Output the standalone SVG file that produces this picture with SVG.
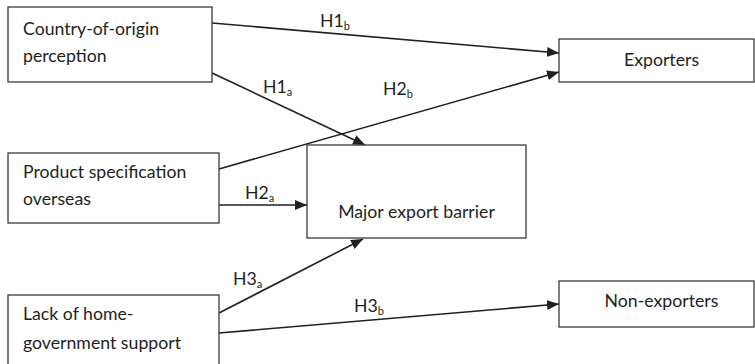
<svg xmlns="http://www.w3.org/2000/svg" width="755" height="364" viewBox="0 0 755 364">
<defs>
<style>
.box{fill:#fff;stroke:#3a3a3a;stroke-width:1.3}
.t{font-family:Lato,"Open Sans","Liberation Sans",sans-serif;font-size:17.7px;fill:#231f20}
.c{text-anchor:middle}
.e{stroke:#231f20;stroke-width:1.6;fill:none;marker-end:url(#ah)}
.s{font-size:11px}
</style>
<marker id="ah" viewBox="0 0 12 10" refX="12" refY="5" markerWidth="12" markerHeight="10" markerUnits="userSpaceOnUse" orient="auto">
<path d="M0,0 L12,5 L0,10 z" fill="#231f20"/>
</marker>
</defs>
<rect width="755" height="364" fill="#fff"/>
<g id="connectors">
<line class="e" x1="212" y1="23" x2="559" y2="53"/>
<line class="e" x1="212" y1="73" x2="365" y2="145"/>
<line class="e" x1="219" y1="169" x2="559" y2="72"/>
<line class="e" x1="219" y1="205" x2="307" y2="205"/>
<line class="e" x1="219" y1="313" x2="363" y2="239"/>
<line class="e" x1="219" y1="333" x2="559" y2="304"/>
<text class="t" x="320" y="27">H1<tspan class="s" dy="3">b</tspan></text>
<text class="t" x="263" y="93">H1<tspan class="s" dy="3">a</tspan></text>
<text class="t" x="383" y="95">H2<tspan class="s" dy="3">b</tspan></text>
<text class="t" x="245" y="199">H2<tspan class="s" dy="3">a</tspan></text>
<text class="t" x="233" y="285">H3<tspan class="s" dy="3">a</tspan></text>
<text class="t" x="354" y="312">H3<tspan class="s" dy="3">b</tspan></text>
</g>
<g id="country">
<rect class="box" x="8" y="7" width="204" height="75"/>
<text class="t" x="23" y="35">Country-of-origin</text>
<text class="t" x="23" y="62">perception</text>
</g>
<g id="product">
<rect class="box" x="8" y="153" width="211" height="70"/>
<text class="t" x="23" y="178">Product specification</text>
<text class="t" x="23" y="205">overseas</text>
</g>
<g id="lack">
<rect class="box" x="8" y="295" width="211" height="80"/>
<text class="t" x="23" y="320">Lack of home-</text>
<text class="t" x="23" y="349">government support</text>
</g>
<g id="barrier">
<rect class="box" x="307" y="145" width="219" height="93"/>
<text class="t c" x="416.5" y="218">Major export barrier</text>
</g>
<g id="exporters">
<rect class="box" x="559" y="39" width="195" height="43"/>
<text class="t c" x="661.5" y="66">Exporters</text>
</g>
<g id="nonexporters">
<rect class="box" x="559" y="281" width="195" height="46"/>
<text class="t c" x="661.5" y="307">Non-exporters</text>
</g>
</svg>
